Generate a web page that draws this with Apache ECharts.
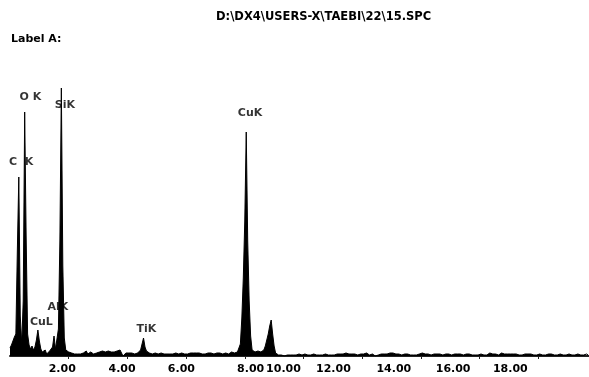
<!DOCTYPE html>
<html>
<head>
<meta charset="utf-8">
<script src="https://cdn.jsdelivr.net/npm/echarts@6/dist/echarts.min.js"></script>
<style>
  html, body { margin: 0; padding: 0; background: #fff; }
  #chart { width: 589px; height: 377px; }
</style>
</head>
<body>
<div id="chart"></div>
<script>
// EDS spectrum, one value per 0.05 keV channel (relative counts).
const channelWidth = 0.05

const counts = [
  // 0.00 - 0.95
  8, 11, 15, 19, 22, 105, 179, 40, 12, 55, 244, 120, 22, 11, 7, 10, 6, 9, 16, 26,
  // 1.00 - 1.95
  15, 7, 4, 3, 6, 2, 4, 5, 7, 9, 20, 7, 9, 27, 115, 268, 90, 18, 6, 6,
  // 2.00 - 2.95
  4, 3, 3, 2, 2, 3, 2, 3, 2, 3, 3, 2, 5, 2, 3, 4, 3, 2, 3, 3,
  // 3.00 - 3.95
  3, 4, 3, 5, 4, 4, 3, 5, 4, 4, 6, 4, 5, 5, 3, 6, 4, 0, 1, 3,
  // 4.00 - 4.95
  3, 3, 2, 3, 3, 2, 3, 3, 4, 6, 12, 18, 9, 5, 3, 3, 3, 2, 2, 3,
  // 5.00 - 5.95
  3, 2, 2, 3, 3, 2, 3, 2, 3, 2, 3, 2, 2, 3, 3, 2, 2, 3, 2, 2,
  // 6.00 - 6.95
  3, 2, 3, 3, 2, 3, 2, 3, 2, 3, 3, 2, 3, 2, 4, 3, 2, 3, 3, 2,
  // 7.00 - 7.95
  3, 3, 2, 3, 3, 2, 4, 3, 3, 2, 3, 4, 4, 3, 5, 4, 5, 12, 38, 78,
  // 8.00 - 8.95
  135, 224, 115, 55, 20, 6, 4, 4, 3, 5, 4, 4, 5, 6, 10, 16, 22, 30, 36, 22,
  // 9.00 - 9.95
  10, 3, 2, 1, 0, 1, 2, 0, 1, 1, 0, 1, 2, 1, 0, 1, 1, 2, 1, 1,
  // 10.00 - 10.95
  1, 2, 1, 1, 2, 1, 0, 2, 1, 1, 2, 1, 2, 1, 1, 2, 2, 1, 2, 1,
  // 11.00 - 11.95
  2, 1, 2, 2, 1, 2, 3, 2, 2, 3, 2, 2, 1, 2, 3, 2, 2, 1, 2, 2,
  // 12.00 - 12.95
  3, 2, 2, 3, 2, 1, 2, 2, 1, 0, 2, 1, 2, 2, 3, 2, 3, 2, 2, 3,
  // 13.00 - 13.95
  2, 3, 2, 2, 3, 2, 2, 1, 2, 2, 3, 2, 2, 1, 2, 1, 0, 1, 2, 2,
  // 14.00 - 14.95
  2, 3, 2, 2, 1, 2, 2, 1, 2, 2, 3, 2, 1, 2, 2, 1, 2, 2, 1, 2,
  // 15.00 - 15.95
  2, 1, 2, 2, 1, 2, 1, 2, 2, 1, 2, 2, 1, 2, 2, 1, 2, 1, 2, 1,
  // 16.00 - 16.95
  1, 2, 2, 1, 2, 1, 2, 3, 2, 2, 1, 2, 2, 1, 2, 3, 2, 2, 1, 2,
  // 17.00 - 17.95
  3, 2, 1, 2, 1, 2, 2, 1, 2, 1, 1, 2, 1, 2, 1, 2, 1, 1, 2, 1,
  // 18.00 - 18.95
  1, 2, 1, 1, 2, 1, 1, 2, 1, 2, 1, 1, 2, 1, 1, 2, 1, 1, 2, 1,
  // 19.00 - 19.70
  1, 2, 1, 1, 2, 1, 1, 2, 1, 1, 2, 1, 1, 2, 1,
]

const peakNames = ['C  K', 'O K', 'CuL', 'AlK', 'SiK', 'TiK', 'CuK']

const tickValues = [2, 4, 6, 8, 10, 12, 14, 16, 18]
const tickLabels = ['2.00', '4.00', '6.00', '8.00', '10.00', '12.00', '14.00', '16.00', '18.00']

const fileName = 'D:\\DX4\\USERS-X\\TAEBI\\22\\15.SPC'
const subTitle = 'Label A:'

// 标签位置 (keV, counts) - 只用于布局.
const peakLabelAt = [[0.38, 194], [0.695, 259], [1.07, 34], [1.63, 48.5], [1.87, 250.5], [4.65, 27], [8.18, 243]]
// 刻度文字在原图中相对刻度有偏移.
const tickLabelAt = [1.78, 3.82, 5.84, 8.2, 9.32, 11.02, 13.08, 15.1, 17.05]

const font = 'DejaVu Sans'

const chart = echarts.init(document.getElementById('chart'))

chart.setOption({
  animation: false,
  backgroundColor: '#fff',
  title: [
    {
      text: fileName,
      left: 216,
      top: 10,
      padding: 0,
      textStyle: { fontFamily: font, fontWeight: 'bold', fontSize: 11.5, lineHeight: 14, color: '#000' },
    },
    {
      text: subTitle,
      left: 11,
      top: 32,
      padding: 0,
      textStyle: { fontFamily: font, fontWeight: 'bold', fontSize: 11, lineHeight: 14, color: '#000' },
    },
  ],
  grid: { left: 10, right: 0, top: 20, bottom: 21, outerBoundsMode: 'none' },
  xAxis: {
    type: 'value',
    min: 0,
    max: 19.73,
    offset: 3,
    splitLine: { show: false },
    axisLine: { show: true, lineStyle: { color: '#222', width: 2 } },
    axisTick: { show: true, customValues: tickValues, length: 3, lineStyle: { color: '#222', width: 1 } },
    axisLabel: {
      customValues: tickLabelAt,
      margin: 5,
      fontFamily: font,
      fontWeight: 'bold',
      fontSize: 11,
      color: '#000',
      formatter(value) {
        let best = 0
        tickLabelAt.forEach((v, i) => {
          if (Math.abs(v - value) < Math.abs(tickLabelAt[best] - value)) best = i
        })
        return tickLabels[best]
      },
    },
  },
  yAxis: {
    type: 'value',
    min: 0,
    max: 336,
    show: false,
  },
  series: [
    {
      type: 'line',
      data: counts.map((c, i) => [+(i * channelWidth).toFixed(2), c]),
      symbol: 'none',
      sampling: 'none',
      lineStyle: { color: '#000', width: 1 },
      areaStyle: { color: '#000', opacity: 1 },
      z: 2,
    },
    {
      type: 'scatter',
      symbolSize: 1,
      itemStyle: { color: 'transparent' },
      data: peakNames.map((name, i) => ({ name, value: peakLabelAt[i] })),
      label: {
        show: true,
        position: 'inside',
        formatter: (p) => p.name,
        fontFamily: font,
        fontWeight: 'bold',
        fontSize: 11,
        color: '#000',
        textBorderWidth: 0,
      },
      z: 3,
    },
  ],
})
</script>
</body>
</html>
